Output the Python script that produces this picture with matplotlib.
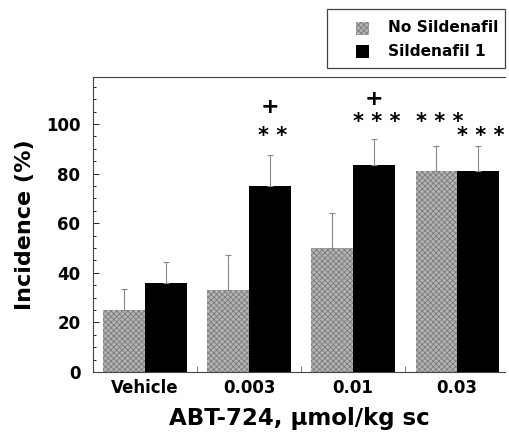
import matplotlib
matplotlib.use("Agg")
import matplotlib.pyplot as plt
from matplotlib.patches import Rectangle
import numpy as np

plt.rcParams['font.family'] = ['DejaVu Sans']
plt.rcParams['font.weight'] = 'bold'
plt.rcParams['hatch.linewidth'] = 0.6

# data
groups = ["Vehicle", "0.003", "0.01", "0.03"]
no_sil = [25, 33, 50, 81]
no_sil_err = [8.5, 14, 14, 10]
sil_1 = [36, 75, 83.5, 81]
sil_1_err = [8.5, 12.5, 10.5, 10]
series_names = ["No Sildenafil", "Sildenafil 1"]

# significance marks: (group, series, text, gap above error bar)
stars = [(1, 1, "* *", 7.6), (2, 1, "* * *", 6.8), (3, 0, "* * *", 9.8), (3, 1, "* * *", 4.3)]
plus = [(1, 1, 19.5), (2, 1, 16)]

GREY = "#b4b4b4"
HATCH_EDGE = "#7a7a7a"

fig = plt.figure(figsize=(5.09, 4.32), dpi=100)
ax = fig.add_axes([93 / 509, 60 / 432, 412 / 509, 295 / 432])

x = np.arange(len(groups))
w = 0.4
err_kw = dict(ecolor="#888888", elinewidth=0.8, capsize=2.2, capthick=0.8)

ax.bar(x - w / 2, no_sil, w, color=GREY, edgecolor=HATCH_EDGE, hatch="xxxxxx",
       linewidth=0, yerr=[np.zeros(4), no_sil_err], error_kw=err_kw, zorder=2)
ax.bar(x + w / 2, sil_1, w, color="black", linewidth=0,
       yerr=[np.zeros(4), sil_1_err], error_kw=err_kw, zorder=2)

vals = [no_sil, sil_1]
errs = [no_sil_err, sil_1_err]
for g, s, txt, gap in stars:
    xc = x[g] + (s - 0.5) * w + 0.03
    ax.text(xc, vals[s][g] + errs[s][g] + gap, txt, ha="center", va="center",
            fontsize=15, fontweight="bold")
for g, s, gap in plus:
    xc = x[g] + (s - 0.5) * w
    ax.text(xc, vals[s][g] + errs[s][g] + gap, "+", ha="center", va="center",
            fontsize=16, fontweight="bold")

ax.set_xlim(-0.5, 3.46)
ax.set_ylim(0, 119)
ax.set_yticks([0, 20, 40, 60, 80, 100])
ax.set_yticks(np.arange(0, 119, 5), minor=True)
ax.set_xticks(x)
ax.set_xticklabels(groups)
ax.set_xticks([0.5, 1.5, 2.5], minor=True)
ax.tick_params(axis="x", which="major", length=0, labelsize=12, pad=5)
ax.tick_params(axis="x", which="minor", direction="in", length=4, width=0.6, color="#666666")
ax.tick_params(axis="y", which="major", direction="in", length=4, width=0.6, labelsize=12, pad=9)
ax.tick_params(axis="y", which="minor", direction="in", length=2.5, width=0.6)
ax.spines["right"].set_visible(False)
for s in ["left", "top", "bottom"]:
    ax.spines[s].set_linewidth(0.8)
    ax.spines[s].set_color("#444444")

ax.set_ylabel("Incidence (%)", fontsize=16, fontweight="bold", labelpad=8)
ax.set_xlabel("ABT-724, µmol/kg sc", fontsize=16.5, fontweight="bold", labelpad=7.5)

# legend box drawn in figure pixels
def px(xp, yp):
    return xp / 509, 1 - yp / 432

box = Rectangle(px(327, 68), 178 / 509, 59 / 432, transform=fig.transFigure,
                facecolor="white", edgecolor="#444444", linewidth=0.9)
fig.add_artist(box)
fig.add_artist(Rectangle(px(356, 35), 13 / 509, 13 / 432, transform=fig.transFigure,
                         facecolor=GREY, edgecolor=HATCH_EDGE, hatch="xxxxxx", linewidth=0))
fig.add_artist(Rectangle(px(356, 58), 13 / 509, 13 / 432, transform=fig.transFigure,
                         facecolor="black", linewidth=0))
fig.text(*px(388, 28), series_names[0], ha="left", va="center", fontsize=11.1, fontweight="bold")
fig.text(*px(388, 52), series_names[1], ha="left", va="center", fontsize=11.1, fontweight="bold")

fig.savefig("out.png", dpi=100)
